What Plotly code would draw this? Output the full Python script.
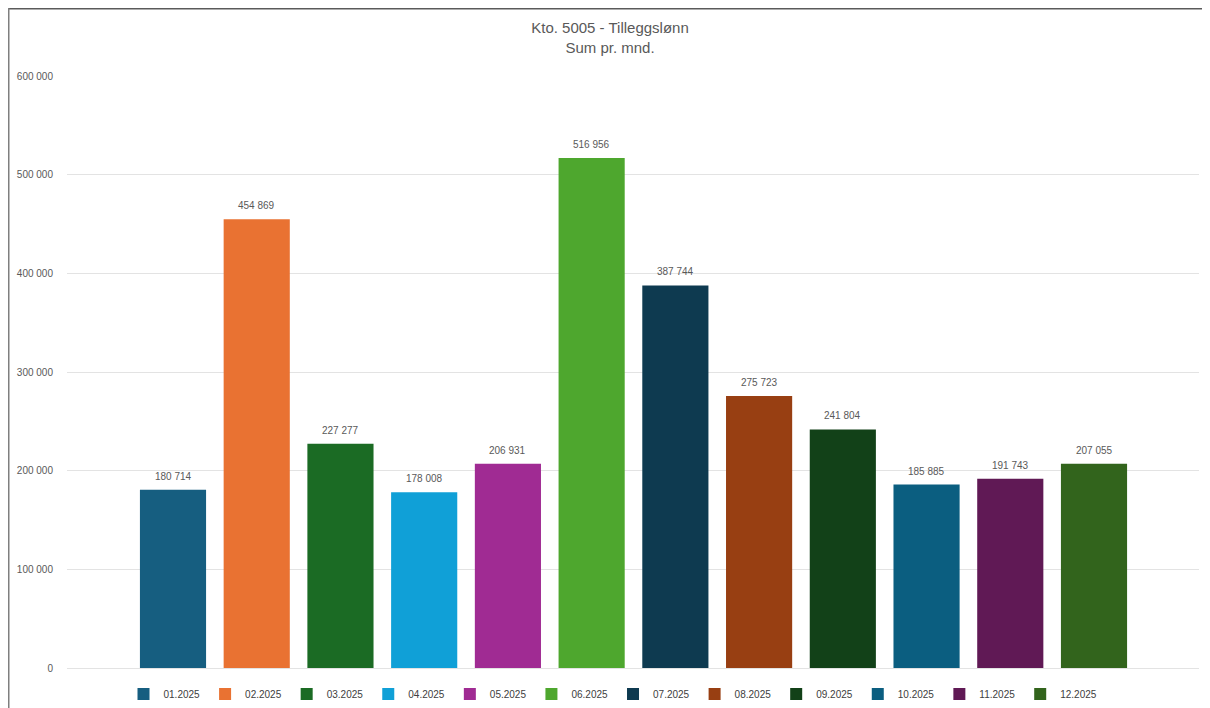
import plotly.graph_objects as go

months = ["01.2025", "02.2025", "03.2025", "04.2025", "05.2025", "06.2025",
          "07.2025", "08.2025", "09.2025", "10.2025", "11.2025", "12.2025"]
values = [180714, 454869, 227277, 178008, 206931, 516956,
          387744, 275723, 241804, 185885, 191743, 207055]
colors = ["#165E80", "#E97232", "#1B6B24", "#10A0D7", "#A02B93", "#4EA72E",
          "#0E3A50", "#983F12", "#124118", "#0B5E80", "#601955", "#32641C"]
y_ticks = [0, 100000, 200000, 300000, 400000, 500000, 600000]

# page body has an 8px margin, so the figure is 8px smaller on each side
OFF = 8
W, H = 1210 - OFF, 708 - OFF
ML, MR, MT, MB = 67 - OFF, 11, 76 - OFF, 40
PW, PH = W - ML - MR, H - MT - MB


def px_x(x):
    return (x - OFF - ML) / PW


def px_y(y):
    return (H - MB - (y - OFF)) / PH


def fmt(v):
    return f"{v:,}".replace(",", " ")


fig = go.Figure()
for i, (m, v, c) in enumerate(zip(months, values, colors)):
    fig.add_trace(go.Bar(
        x=[m], y=[v], name=m, marker=dict(color=c, line=dict(width=0)),
        width=0.79, hoverinfo="x+y",
    ))
    fig.add_annotation(
        x=i, y=v, text=fmt(v), showarrow=False, yanchor="bottom", yshift=6,
        font=dict(family="Liberation Sans, Arial", size=10, color="#595959"),
    )

fig.update_layout(
    width=W, height=H,
    margin=dict(l=ML, r=MR, t=MT, b=MB, autoexpand=False),
    paper_bgcolor="white", plot_bgcolor="white",
    barmode="overlay",
    separators=", ",
    title=dict(
        text="Kto. 5005 - Tilleggslønn<br>Sum pr. mnd.",
        x=(610 - OFF) / W, xref="container", xanchor="center",
        y=1 - (33 - OFF) / H, yref="container", yanchor="top",
        font=dict(family="Liberation Sans Narrow, Liberation Sans, Arial", size=15, color="#595959"),
    ),
    xaxis=dict(
        type="category", categoryorder="array", categoryarray=months,
        range=[-1.266, 12.254], showticklabels=False, showgrid=False,
        zeroline=False, showline=False, ticks="",
    ),
    yaxis=dict(
        range=[0, 600000], tickvals=y_ticks,
        ticktext=[fmt(v) for v in y_ticks],
        showgrid=True, gridcolor="#E3E3E3", gridwidth=1,
        zeroline=True, zerolinecolor="#E3E3E3", zerolinewidth=1,
        showline=False, ticks="", ticklabelstandoff=13,
        tickfont=dict(family="Liberation Sans, Arial", size=10, color="#595959"),
    ),
    legend=dict(
        orientation="h", x=(613 - OFF) / W, xref="container",
        xanchor="center", y=1 - (694 - OFF) / H, yref="container", yanchor="middle",
        font=dict(family="Liberation Sans, Arial", size=10, color="#404040"),
        itemwidth=30, traceorder="normal",
    ),
    showlegend=True,
)

# chart frame lines (top and left edges)
fig.add_shape(type="line", xref="paper", yref="paper",
              x0=px_x(OFF), x1=px_x(1210), y0=px_y(OFF + 0.5), y1=px_y(OFF + 0.5),
              line=dict(color="#5A5A5A", width=2))
fig.add_shape(type="line", xref="paper", yref="paper",
              x0=px_x(OFF + 0.5), x1=px_x(OFF + 0.5), y0=px_y(OFF), y1=px_y(708),
              line=dict(color="#7F7F7F", width=2))

fig.write_html("out.html")
